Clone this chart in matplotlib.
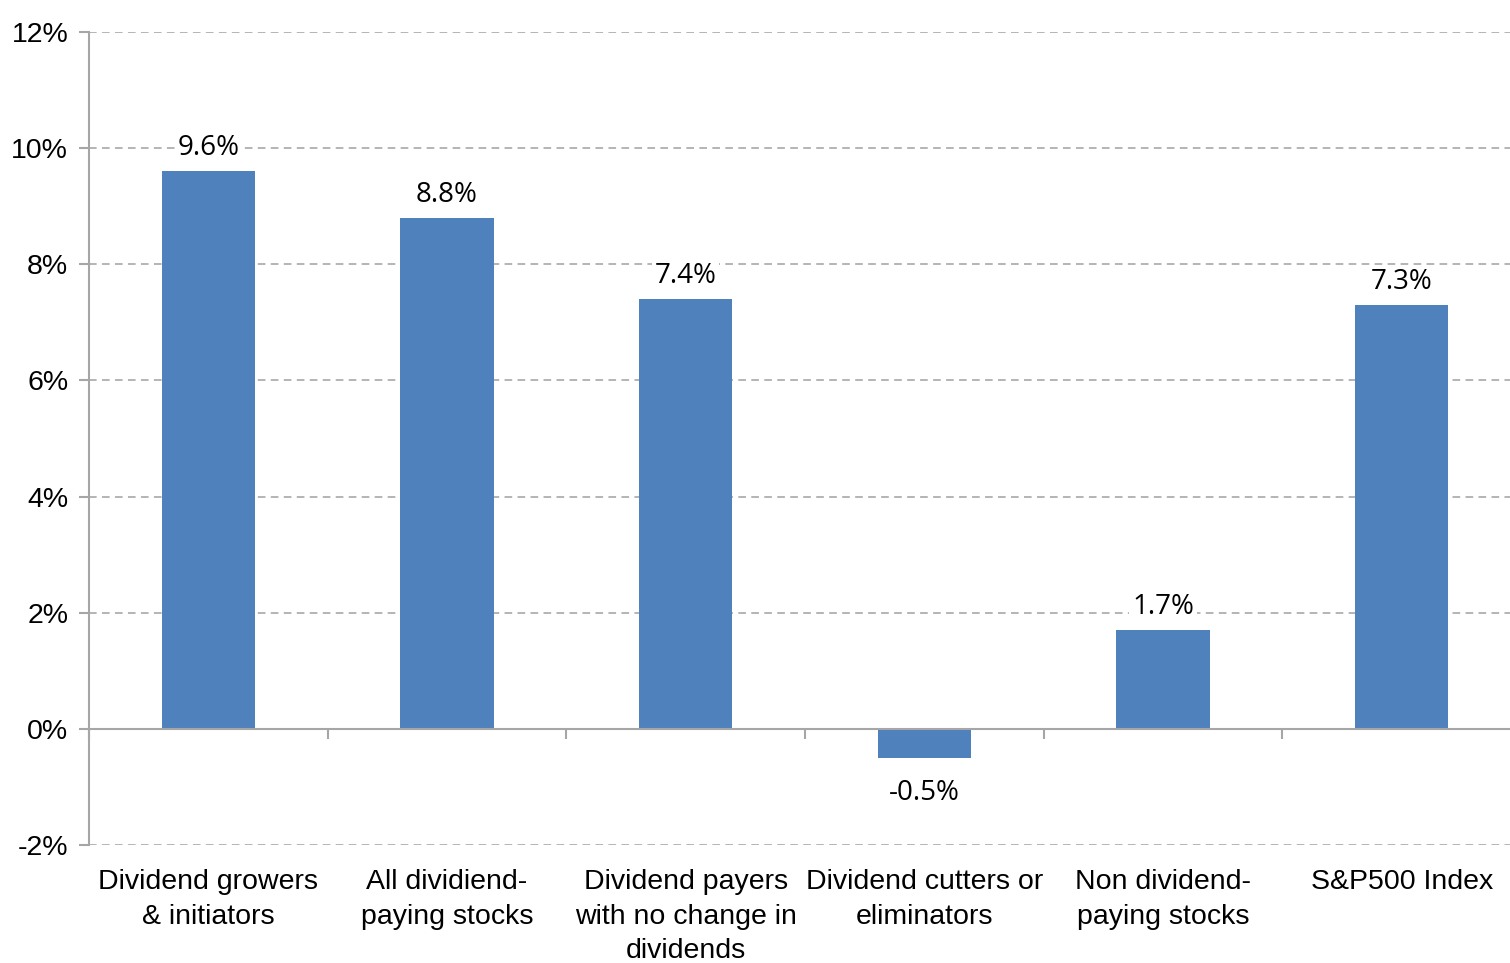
import matplotlib
matplotlib.use("Agg")
import matplotlib.pyplot as plt
import numpy as np

categories = [
    "Dividend growers\n& initiators",
    "All dividiend-\npaying stocks",
    "Dividend payers\nwith no change in\ndividends",
    "Dividend cutters or\neliminators",
    "Non dividend-\npaying stocks",
    "S&P500 Index",
]
values = [9.6, 8.8, 7.4, -0.5, 1.7, 7.3]
value_labels = ["9.6%", "8.8%", "7.4%", "-0.5%", "1.7%", "7.3%"]
yticks = [-2, 0, 2, 4, 6, 8, 10, 12]
ytick_labels = ["-2%", "0%", "2%", "4%", "6%", "8%", "10%", "12%"]

bar_color = "#4F81BD"
axis_gray = "#A6A6A6"
grid_gray = "#A0A0A0"

fig = plt.figure(figsize=(15.10, 9.63), dpi=100)
ax = fig.add_axes([89/1510, (963-845)/963, 1432/1510, 813/963])

x = np.arange(len(categories))
bars = ax.bar(x, values, width=0.39, color=bar_color, zorder=3)

ax.set_xlim(-0.5, len(categories) - 0.5)
ax.set_ylim(-2, 12)

# grid
ax.set_yticks(yticks)
ax.set_yticklabels(ytick_labels, fontfamily="Liberation Sans", fontsize=20.5)
for yv in yticks:
    if yv != 0:
        ax.axhline(yv, color=grid_gray, linestyle=(0, (5, 3.5)), linewidth=1.1, zorder=1)

for s in ["top", "right"]:
    ax.spines[s].set_visible(False)
ax.spines["left"].set_color(axis_gray)
ax.spines["left"].set_linewidth(1.5)
ax.spines["bottom"].set_position(("data", 0))
ax.spines["bottom"].set_color(axis_gray)
ax.spines["bottom"].set_linewidth(1.5)
ax.spines["bottom"].set_zorder(4)

ax.tick_params(axis="y", length=7, width=1.5, color=axis_gray, pad=8, labelcolor="black")

# x labels at centres, boundary ticks as minor ticks
ax.set_xticks(x)
ax.set_xticklabels(categories, fontfamily="Liberation Sans", fontsize=20.5, linespacing=1.42)
ax.set_xticks(np.arange(len(categories) + 1) - 0.5, minor=True)
ax.tick_params(axis="x", which="major", length=0, pad=101)
ax.tick_params(axis="x", which="minor", length=7, width=1.5, color=axis_gray, direction="out")

# value labels
for xi, v, lab in zip(x, values, value_labels):
    if v >= 0:
        ax.annotate(lab, (xi, v), xytext=(0, 6.5), textcoords="offset points",
                    ha="center", va="bottom", fontfamily="Open Sans", fontsize=20,
                    zorder=5, bbox=dict(boxstyle="square,pad=0.1", fc="white", ec="none"))
    else:
        ax.annotate(lab, (xi, v), xytext=(0, -15), textcoords="offset points",
                    ha="center", va="top", fontfamily="Open Sans", fontsize=20,
                    zorder=5)

fig.savefig("out.png", dpi=100)
